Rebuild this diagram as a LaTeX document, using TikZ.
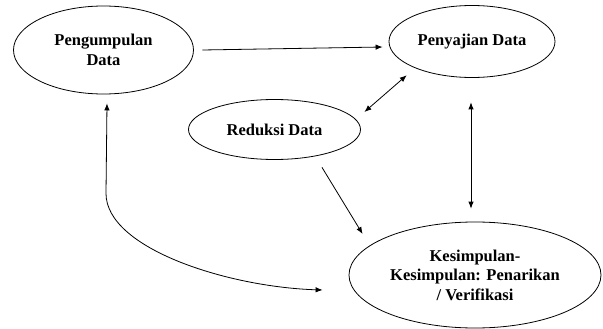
\documentclass[tikz,border=0pt]{standalone}
\usepackage{fontspec}
\setmainfont{Liberation Serif}
\usetikzlibrary{shapes.geometric, arrows.meta}
\begin{document}
\begin{tikzpicture}[x=1pt, y=-1pt, line width=0.8pt, >={Latex[length=7pt,width=5.5pt]},
            proses/.style={ellipse, draw, inner sep=0pt, align=center,
                font=\bfseries\fontsize{16.5}{19.5}\selectfont}]
            \useasboundingbox (0,0) rectangle (603,329);
            \node(kumpul) [proses, minimum width=180pt, minimum height=88pt] at (103.5,50) {Pengumpulan\\Data};
            \node(saji) [proses, minimum width=166pt, minimum height=72pt] at (472,41.5) {Penyajian Data};
            \node(reduksi) [proses, minimum width=172pt, minimum height=60pt] at (274.5,129.5) {Reduksi Data};
            \node(simpul) [proses, minimum width=252pt, minimum height=106pt] at (475,275) {Kesimpulan-\\Kesimpulan: Penarikan\\/ Verifikasi};
            \draw[->]([shift={(8.5,0)}]kumpul.east) -- ([shift={(-6,5.5)}]saji.west);
            \draw[<->]([shift={(3.5,-17.5)}]reduksi.east) -- ([shift={(-6.3,8)}]saji.south west);
            \draw[<->]([shift={(-1,24.5)}]saji.south) -- ([shift={(-4,-13)}]simpul.north);
            \draw[->]([shift={(47.5,7.5)}]reduksi.south) -- ([shift={(14,-41)}]simpul.west);
            \draw[<->]([shift={(3.5,9)}]kumpul.south) -- ++(-1,90)
                .. controls +(0,55) and +(-95,-3) .. ([shift={(-26,15)}]simpul.west);
            \end{tikzpicture}
\end{document}
